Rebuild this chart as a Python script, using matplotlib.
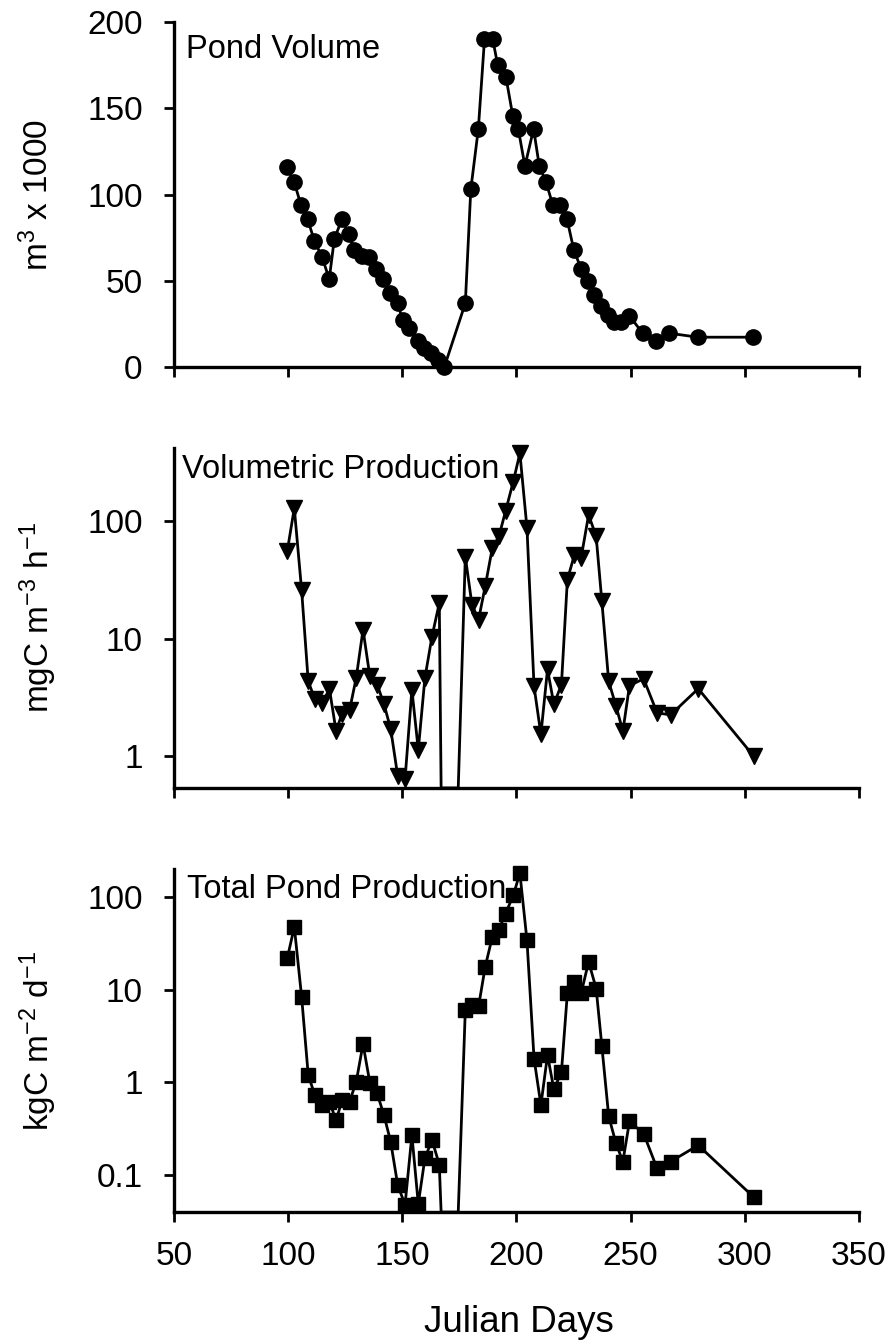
import numpy as np
import matplotlib
matplotlib.use('Agg')
import matplotlib.pyplot as plt

plt.rcParams['font.family'] = ['Liberation Sans', 'DejaVu Sans']
plt.rcParams['mathtext.default'] = 'regular'

# pond volume (m3 x 1000) by julian day
vol_days = [99.4, 102.7, 105.6, 108.5, 111.5, 114.8, 118.0, 120.2, 123.6, 126.5,
            129.0, 132.3, 135.5, 138.5, 141.4, 144.7, 148.0, 150.2, 153.0, 156.7,
            159.6, 162.6, 165.5, 168.4, 177.6, 180.0, 183.3, 186.0, 189.6, 191.8,
            195.4, 198.4, 200.8, 203.7, 207.5, 210.0, 213.0, 215.9, 219.2, 222.1,
            225.1, 228.3, 231.2, 234.1, 237.0, 240.0, 242.9, 245.8, 249.5, 255.3,
            261.1, 267.0, 279.4, 303.5]
vol = [116, 107, 94, 86, 73, 64, 51, 74, 86, 77,
       68, 64.5, 64, 57, 51, 43, 37, 27, 22.5, 15,
       11, 8, 4, 0, 37, 103, 138, 190, 190, 175,
       168, 145.5, 138, 116.5, 138, 116.5, 107, 94, 94, 86,
       68, 57, 50, 42, 35.5, 30, 26, 26, 29.6, 19.6,
       15, 19.6, 17.3, 17.3]

# production sampling days (0 = pond dry)
prod_days = [99.6, 102.7, 105.9, 108.8, 111.7, 114.8, 118.1, 121.0, 123.6, 126.9,
             129.8, 132.8, 135.8, 139.0, 142.0, 144.9, 148.0, 151.2, 154.2, 157.0,
             159.9, 163.0, 166.2, 167.0, 174.5, 177.6, 180.5, 183.4, 186.3, 189.4,
             192.3, 195.2, 198.6, 201.5, 204.6, 207.7, 210.7, 213.6, 216.4, 219.7,
             222.3, 225.4, 228.3, 231.6, 234.9, 237.4, 240.4, 243.6, 246.6, 249.5,
             255.7, 261.6, 267.5, 279.6, 303.9]
vol_prod = [55.5, 130, 26, 4.3, 3.06, 2.8, 3.7, 1.62, 2.29, 2.45,
            4.6, 11.9, 4.75, 4.05, 2.74, 1.7, 0.67, 0.63, 3.66, 1.12,
            4.6, 10.4, 20.1, 0, 0, 50, 19.5, 14.5, 27.9, 59,
            74.5, 122, 219, 383, 88, 3.9, 1.52, 5.45, 2.74, 4.05,
            31.8, 52, 48.7, 114, 74.5, 20.8, 4.3, 2.65, 1.62, 3.97,
            4.53, 2.32, 2.23, 3.73, 0.99]
tot_prod = [21.7, 47.5, 8.4, 1.2, 0.73, 0.57, 0.62, 0.39, 0.64, 0.62,
            1.01, 2.59, 0.99, 0.76, 0.44, 0.23, 0.078, 0.048, 0.27, 0.049,
            0.152, 0.24, 0.13, 0, 0, 6.1, 6.8, 6.6, 17.6, 37,
            44.5, 66, 104, 181, 34, 1.81, 0.57, 1.97, 0.84, 1.3,
            9.2, 12.1, 9.1, 20, 10.3, 2.46, 0.43, 0.22, 0.14, 0.38,
            0.28, 0.118, 0.14, 0.21, 0.058]

xticks = [50, 100, 150, 200, 250, 300, 350]

fig = plt.figure(figsize=(8.94, 13.43), dpi=100)
ax1 = fig.add_axes([0.1946, 0.7267, 0.7662, 0.2569])
ax2 = fig.add_axes([0.1946, 0.4133, 0.7662, 0.2532])
ax3 = fig.add_axes([0.1946, 0.0975, 0.7662, 0.2554])


def style(ax):
    for s in ['top', 'right']:
        ax.spines[s].set_visible(False)
    for s in ['left', 'bottom']:
        ax.spines[s].set_linewidth(2.4)
    ax.set_xlim(50, 350)
    ax.set_xticks(xticks)
    ax.tick_params(axis='both', direction='out', length=7.5, width=2.0,
                   labelsize=24, color='black')
    ax.tick_params(axis='y', pad=15)
    ax.tick_params(axis='x', pad=13)


# pond volume
style(ax1)
ax1.plot(vol_days, vol, color='black', lw=2.0, marker='o', ms=11, clip_on=False, zorder=3)
ax1.set_ylim(0, 200)
ax1.set_yticks([0, 50, 100, 150, 200])
ax1.tick_params(axis='x', labelbottom=False)
ax1.text(0.0175, 0.8957, 'Pond Volume', transform=ax1.transAxes, fontsize=23.5, va='baseline')
ax1.text(-0.1985, 0.5, r'm$^3$ x 1000', transform=ax1.transAxes, fontsize=24,
         rotation=90, ha='center', va='center')


def log_panel(ax, vals, ylim, ticks, labels, mk, ms, title, tx, ty, ylab):
    style(ax)
    ax.set_yscale('log')
    ax.set_ylim(*ylim)
    v = np.array(vals, dtype=float)
    d = np.array(prod_days)
    # zero readings sit on the axis floor, like the original spreadsheet plot
    ax.plot(d, np.where(v > 0, v, ylim[0]), color='black', lw=2.0, zorder=2)
    ok = v > 0
    ax.plot(d[ok], v[ok], ls='none', marker=mk, ms=ms, color='black', clip_on=False, zorder=3)
    ax.set_yticks(ticks)
    ax.set_yticklabels(labels)
    ax.minorticks_off()
    ax.text(tx, ty, title, transform=ax.transAxes, fontsize=23.5, va='baseline')
    ax.text(-0.1985, 0.5, ylab, transform=ax.transAxes, fontsize=24,
            rotation=90, ha='center', va='center')


log_panel(ax2, vol_prod, (0.53, 425), [1, 10, 100], ['1', '10', '100'], 'v', 11,
          'Volumetric Production', 0.011, 0.912, r'mgC m$^{-3}$ h$^{-1}$')
ax2.tick_params(axis='x', labelbottom=False)

log_panel(ax3, tot_prod, (0.04, 200), [0.1, 1, 10, 100], ['0.1', '1', '10', '100'], 's', 10,
          'Total Pond Production', 0.0197, 0.9155, r'kgC m$^{-2}$ d$^{-1}$')

fig.text(0.5805, 0.0082, 'Julian Days', fontsize=26.5, ha='center', va='baseline')

fig.savefig('out.png', dpi=100)
